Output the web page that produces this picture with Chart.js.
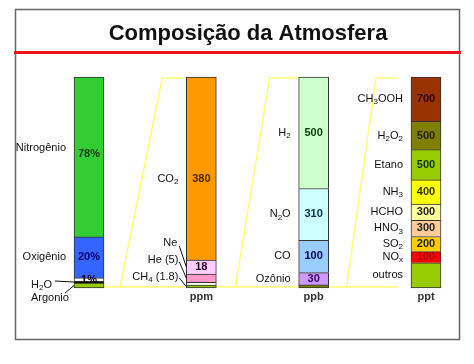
<!DOCTYPE html>
<html>
<head>
<meta charset="utf-8">
<script src="https://cdn.jsdelivr.net/npm/chart.js@4"></script>
<style>
  body { margin: 0; background: #fff; }
  #wrap { width: 474px; height: 364px; position: relative; }
</style>
</head>
<body>
<div id="wrap"><canvas id="atmChart"></canvas></div>
<script>
// one stacked bar per unit, the first one is in percent
const units = ['%', 'ppm', 'ppb', 'ppt'];

// segments top to bottom (sizes as drawn in the picture, not to scale with the printed numbers)
const pctNames = ['Nitrogênio', 'Oxigênio', '', 'H_2O', 'Argonio'];
const pctValues = [78, 20, 1.5, 1, 2.4];
const pctTexts = ['78%', '20%', '1%', '', ''];

const ppmNames = ['CO_2', 'Ne', 'He (5)', '', 'CH_4 (1.8)'];
const ppmValues = [380, 29, 17, 6, 6];
const ppmTexts = ['380', '18', '', '', ''];

const ppbNames = ['H_2', 'N_2O', 'CO', 'Ozônio', ''];
const ppbValues = [500, 232, 145, 55, 14];
const ppbTexts = ['500', '310', '100', '30', ''];

const pptNames = ['CH_3OOH', 'H_2O_2', 'Etano', 'NH_3', 'HCHO', 'HNO_3', 'SO_2', 'NO_x', 'outros'];
const pptValues = [700, 445, 477, 382, 255, 255, 239, 175, 398];
const pptTexts = ['700', '500', '500', '400', '300', '300', '200', '100', ''];

// colours
const pctColors = ['#33cc33', '#3366ff', '#ffffff', '#111111', '#99cc00'];
const pctInks = ['#0b3d0b', '#000066', '#000000', '#000', '#000'];
const ppmColors = ['#ff9900', '#ffccff', '#ff99cc', '#ffffff', '#99cc00'];
const ppmInks = ['#4d2600', '#220022', '#000', '#000', '#000'];
const ppbColors = ['#ccffcc', '#ccffff', '#99ccff', '#cc99ff', '#808000'];
const ppbInks = ['#0a3a0a', '#0a2a4a', '#000055', '#330066', '#000'];
const pptColors = ['#993300', '#808000', '#99cc00', '#ffff00', '#ffff99', '#ffcc99', '#ffcc00', '#ff0000', '#99cc00'];
const pptInks = ['#330000', '#222200', '#0a330a', '#333300', '#222222', '#222222', '#222222', '#aa0000', '#000'];

const bars = [
    { names: pctNames, values: pctValues, texts: pctTexts, colors: pctColors, inks: pctInks },
    { names: ppmNames, values: ppmValues, texts: ppmTexts, colors: ppmColors, inks: ppmInks },
    { names: ppbNames, values: ppbValues, texts: ppbTexts, colors: ppbColors, inks: ppbInks },
    { names: pptNames, values: pptValues, texts: pptTexts, colors: pptColors, inks: pptInks }
];

const FONT = '"Liberation Sans", Arial, sans-serif';
const SIDE_FONT = '11px ' + FONT;
const SUB_FONT = '8px ' + FONT;
const VALUE_FONT = 'bold 11px ' + FONT;
const YELLOW = '#ffff70';

// small tweaks where the picture does not centre a label in its segment
const sideShift = { 'Nitrogênio': -9, 'CO_2': 10 };
const textShift = { '78%': -3, '380': 10 };

// labels with a leader line, placed relative to the bar's left edge and bottom
const callouts = {
    'H_2O': { align: 'left', dx: -43, dy: -3, lx: -19, ly: -7 },
    'Argonio': { align: 'left', dx: -43, dy: 10, lx: -9, ly: 5 },
    'Ne': { align: 'right', dx: -9, dy: -45, lx: -7, ly: -42 },
    'He (5)': { align: 'right', dx: -8, dy: -28, lx: -7, ly: -26 },
    'CH_4 (1.8)': { align: 'right', dx: -8, dy: -11, lx: -7, ly: -10 }
};

// yellow "zoom" wedges between neighbouring bars
const wedges = [
    { bottom: 16, top: -24, end: -2 },
    { bottom: 19, top: -29, end: -1 },
    { bottom: 18, top: -35, end: -13 }
];

const datasets = [];
const segIndex = {};
bars.forEach((bar, b) => {
    const n = bar.values.length;
    for (let i = n - 1; i >= 0; i--) {
        segIndex[b + ':' + i] = datasets.length;
        datasets.push({
            data: units.map((u, k) => (k === b ? bar.values[i] : null)),
            yAxisID: 'y' + b,
            backgroundColor: bar.colors[i],
            borderColor: '#333333',
            borderWidth: 1,
            borderSkipped: i === n - 1 ? false : 'start',
            barThickness: 30,
            clip: false
        });
    }
});

const yScales = {};
bars.forEach((bar, b) => {
    yScales['y' + b] = {
        display: false,
        stacked: true,
        min: 0,
        max: bar.values.reduce((s, v) => s + v, 0)
    };
});

function seg(chart, b, i) {
    const el = chart.getDatasetMeta(segIndex[b + ':' + i]).data[b];
    const w = el.width;
    return {
        x: el.x,
        left: el.x - w / 2,
        right: el.x + w / 2,
        top: Math.min(el.y, el.base),
        bottom: Math.max(el.y, el.base)
    };
}

function richParts(s) {
    const parts = [];
    for (let k = 0; k < s.length; k++) {
        if (s[k] === '_') {
            parts.push({ t: s[k + 1], sub: true });
            k++;
        } else if (parts.length && !parts[parts.length - 1].sub) {
            parts[parts.length - 1].t += s[k];
        } else {
            parts.push({ t: s[k], sub: false });
        }
    }
    return parts;
}

function drawRich(ctx, s, x, y, align) {
    const parts = richParts(s);
    let w = 0;
    parts.forEach(p => {
        ctx.font = p.sub ? SUB_FONT : SIDE_FONT;
        p.w = ctx.measureText(p.t).width;
        w += p.w;
    });
    let cx = align === 'right' ? x - w : (align === 'center' ? x - w / 2 : x);
    ctx.textAlign = 'left';
    ctx.textBaseline = 'middle';
    parts.forEach(p => {
        ctx.font = p.sub ? SUB_FONT : SIDE_FONT;
        ctx.fillText(p.t, cx, p.sub ? y + 3 : y);
        cx += p.w;
    });
    return w;
}

const decor = {
    id: 'decor',
    beforeDatasetsDraw(chart) {
        const ctx = chart.ctx;
        ctx.save();
        // frame
        ctx.strokeStyle = '#666';
        ctx.lineWidth = 1.5;
        ctx.strokeRect(15.5, 9.5, 444, 330);
        // title
        ctx.fillStyle = '#111';
        ctx.font = 'bold 22px ' + FONT;
        ctx.textAlign = 'center';
        ctx.textBaseline = 'alphabetic';
        ctx.fillText('Composição da Atmosfera', 248, 40);
        ctx.fillStyle = '#e8141c';
        ctx.fillRect(14, 51, 447, 3);
        // wedges
        ctx.strokeStyle = YELLOW;
        ctx.lineWidth = 1.5;
        wedges.forEach((wd, k) => {
            const prev = seg(chart, k, bars[k].values.length - 1);
            const next = seg(chart, k + 1, 0);
            const yb = prev.bottom - 1;
            const yt = next.top + 1;
            const end = next.left + wd.end;
            ctx.beginPath();
            ctx.moveTo(prev.right, yb);
            ctx.lineTo(end, yb);
            ctx.moveTo(prev.right + wd.bottom, yb);
            ctx.lineTo(next.left + wd.top, yt);
            ctx.lineTo(end, yt);
            ctx.stroke();
        });
        ctx.restore();
    },
    afterDatasetsDraw(chart) {
        const ctx = chart.ctx;
        ctx.save();
        bars.forEach((bar, b) => {
            const n = bar.values.length;
            const bottom = seg(chart, b, n - 1).bottom;
            bar.names.forEach((name, i) => {
                const r = seg(chart, b, i);
                const cy = (r.top + r.bottom) / 2;
                // value inside the bar
                const txt = bar.texts[i];
                if (txt) {
                    ctx.font = VALUE_FONT;
                    ctx.fillStyle = bar.inks[i];
                    ctx.textAlign = 'center';
                    ctx.textBaseline = 'middle';
                    ctx.fillText(txt, r.x, cy + (textShift[txt] || 0));
                }
                if (!name) return;
                ctx.fillStyle = '#111';
                const c = callouts[name];
                if (c) {
                    drawRich(ctx, name, r.left + c.dx, bottom + c.dy, c.align);
                    ctx.strokeStyle = '#111';
                    ctx.lineWidth = 1;
                    ctx.beginPath();
                    ctx.moveTo(r.left + c.lx, bottom + c.ly);
                    ctx.lineTo(r.left, cy);
                    ctx.stroke();
                } else {
                    drawRich(ctx, name, r.left - 8, cy + (sideShift[name] || 0), 'right');
                }
            });
            // unit under the bar
            if (b > 0) {
                ctx.font = 'bold 11px ' + FONT;
                ctx.fillStyle = '#333';
                ctx.textAlign = 'center';
                ctx.textBaseline = 'middle';
                ctx.fillText(units[b], seg(chart, b, 0).x, bottom + 9);
            }
        });
        ctx.restore();
    }
};

new Chart(document.getElementById('atmChart'), {
    type: 'bar',
    data: {
        labels: units,
        datasets: datasets
    },
    options: {
        responsive: true,
        maintainAspectRatio: false,
        animation: false,
        layout: {
            padding: { left: 89, right: 48, top: 77, bottom: 76 }
        },
        plugins: {
            legend: { display: false },
            tooltip: { enabled: false }
        },
        scales: Object.assign({
            x: {
                type: 'category',
                display: false,
                offset: false,
                stacked: true
            }
        }, yScales)
    },
    plugins: [decor]
});
</script>
</body>
</html>
